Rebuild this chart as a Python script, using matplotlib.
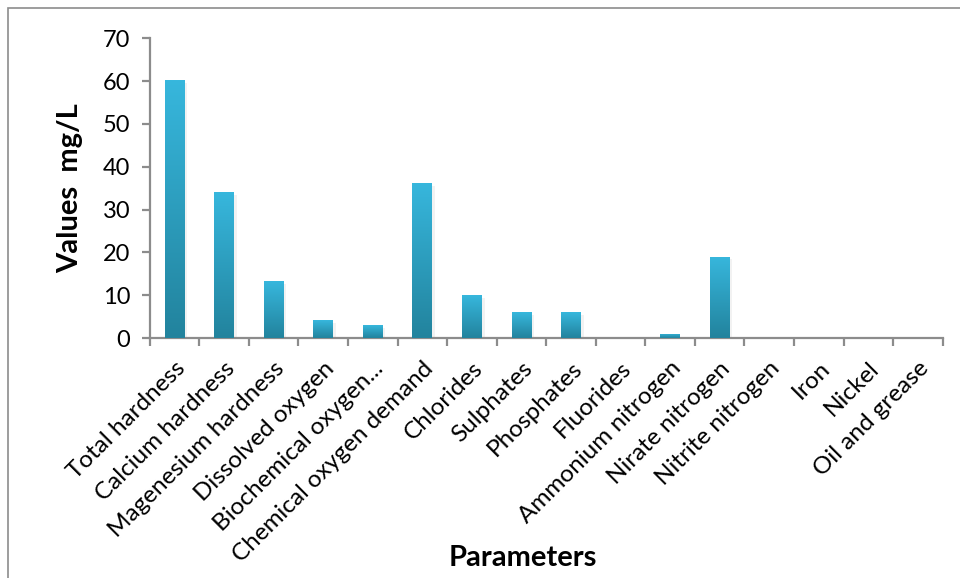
import matplotlib
matplotlib.use("Agg")
import matplotlib.pyplot as plt
import matplotlib.patheffects as pe
from matplotlib.colors import LinearSegmentedColormap
from matplotlib.patches import Rectangle
import numpy as np

params = ["Total hardness", "Calcium hardness", "Magenesium hardness",
          "Dissolved oxygen", "Biochemical oxygen...", "Chemical oxygen demand",
          "Chlorides", "Sulphates", "Phosphates", "Fluorides",
          "Ammonium nitrogen", "Nirate nitrogen", "Nitrite nitrogen",
          "Iron", "Nickel", "Oil and grease"]
values = [60.2, 34.0, 13.3, 4.2, 3.0, 36.2, 10.0, 6.0, 6.0, 0.0,
          1.0, 19.0, 0.0, 0.0, 0.0]

plt.rcParams['font.family'] = ['Lato', 'DejaVu Sans']

fig = plt.figure(figsize=(9.6, 5.78), dpi=100)
ax = fig.add_axes([0.156, 0.415, 0.826, 0.519])

# outer chart frame
fig.patches.append(Rectangle((8 / 960, -0.1), 1.2, 1 - 8 / 578 + 0.1,
                             transform=fig.transFigure, fill=False,
                             edgecolor='#8c8c8c', linewidth=1.2))

cmap = LinearSegmentedColormap.from_list("bar", ["#22839D", "#37B7DD"])
grad = np.linspace(0, 1, 256).reshape(-1, 1)

n = len(params)
x = np.arange(n)
w = 0.4
bars = ax.bar(x[:len(values)], values, width=w, color='#2ea3c4', zorder=2)
for b in bars:
    b.set_path_effects([pe.SimplePatchShadow(offset=(2, -2), shadow_rgbFace='#999999', alpha=0.12),
                        pe.Normal()])
    h = b.get_height()
    if h <= 0:
        continue
    im = ax.imshow(grad, cmap=cmap, origin='lower', aspect='auto',
                   extent=(b.get_x(), b.get_x() + w, 0, h), zorder=3)
    im.set_clip_path(b)

ax.set_xlim(-0.5, n - 0.5)
ax.set_ylim(0, 70)
ax.set_yticks(np.arange(0, 71, 10))
ax.set_xticks(np.arange(-0.5, n, 1.0))
ax.set_xticklabels([])
ax.set_xticks(x, minor=True)
ax.set_xticklabels(params, minor=True, rotation=45, ha='right',
                   rotation_mode='anchor', fontsize=17.5)

for s in ['top', 'right']:
    ax.spines[s].set_visible(False)
for s in ['left', 'bottom']:
    ax.spines[s].set_color('#8c8c8c')
    ax.spines[s].set_linewidth(1.6)
ax.tick_params(axis='y', which='major', length=6, width=1.6, color='#8c8c8c',
               labelsize=17, pad=8)
ax.tick_params(axis='x', which='major', length=6, width=1.6, color='#8c8c8c')
ax.tick_params(axis='x', which='minor', length=0, pad=14)

ax.set_ylabel("Values  mg/L", fontsize=21, fontweight='bold', labelpad=14)
fig.text(0.545, 0.035, "Parameters", fontsize=21, fontweight='bold',
         ha='center', va='center')

fig.savefig("out.png", dpi=100)
